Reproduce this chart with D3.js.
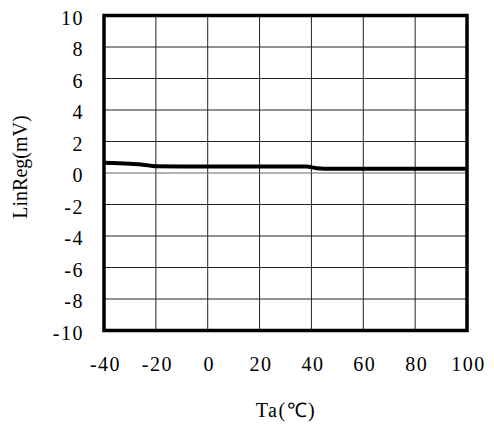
<!DOCTYPE html>
<html><head><meta charset="utf-8">
<script src="https://cdn.jsdelivr.net/npm/d3@7"></script>
<style>body{margin:0;background:#fff}svg{display:block}text{font-family:"Liberation Serif","Times New Roman",serif;fill:#000}</style>
</head><body><svg id="c" width="494" height="425"></svg>
<script>
const temps = [-40, -30, -25, -20, -10, 0, 25, 38, 42, 45, 60, 100];
const linReg = [0.65, 0.58, 0.53, 0.43, 0.42, 0.42, 0.42, 0.42, 0.3, 0.27, 0.27, 0.27];
const xTicks = [-40, -20, 0, 20, 40, 60, 80, 100];
const yTicks = [-10, -8, -6, -4, -2, 0, 2, 4, 6, 8, 10];

const svg = d3.select("#c");
const L = 104, R = 467, T = 15.5, B = 330.5;
const x = d3.scaleLinear().domain([-40, 100]).range([L, R]);
const y = d3.scaleLinear().domain([-10, 10]).range([B, T]);
const fmt = d => String(d);

const g = svg.append("g");
g.selectAll(".vx").data(xTicks).enter().append("line")
  .attr("x1", d => x(d)).attr("x2", d => x(d)).attr("y1", T).attr("y2", B)
  .attr("stroke", "#222").attr("stroke-width", 1);
g.selectAll(".hy").data(yTicks).enter().append("line")
  .attr("y1", d => y(d)).attr("y2", d => y(d)).attr("x1", L).attr("x2", R)
  .attr("stroke", d => d === 0 ? "#666" : "#222").attr("stroke-width", 1);

const line = d3.line().x((d, i) => x(temps[i])).y(d => y(d)).curve(d3.curveMonotoneX);
g.append("path").datum(linReg).attr("d", line).attr("fill", "none")
  .attr("stroke", "#000").attr("stroke-width", 4);

g.append("rect").attr("x", L).attr("y", T).attr("width", R - L).attr("height", B - T)
  .attr("fill", "none").attr("stroke", "#000").attr("stroke-width", 3.5);

const xAxis = d3.axisBottom(x).tickValues(xTicks).tickSize(0).tickPadding(0).tickFormat(fmt);
const xa = svg.append("g").attr("transform", `translate(1,371)`).call(xAxis);
xa.select(".domain").remove();
xa.selectAll("text").attr("font-size", 20).attr("dy", 0).attr("letter-spacing", 1.5)
  .attr("font-family", "Liberation Serif");

const yAxis = d3.axisLeft(y).tickValues(yTicks).tickSize(0).tickPadding(0).tickFormat(fmt);
const ya = svg.append("g").attr("transform", `translate(84,1.5)`).call(yAxis);
ya.select(".domain").remove();
ya.selectAll("text").attr("font-size", 20).attr("dy", "0.35em").attr("letter-spacing", 1.5)
  .attr("font-family", "Liberation Serif");

svg.append("text").attr("x", 286).attr("y", 417).attr("text-anchor", "middle")
  .attr("font-size", 20).attr("letter-spacing", 1.5).text("Ta(℃)");
svg.append("text").attr("transform", `translate(27,167) rotate(-90)`).attr("text-anchor", "middle")
  .attr("font-size", 20).text("LinReg(mV)");
</script></body></html>
